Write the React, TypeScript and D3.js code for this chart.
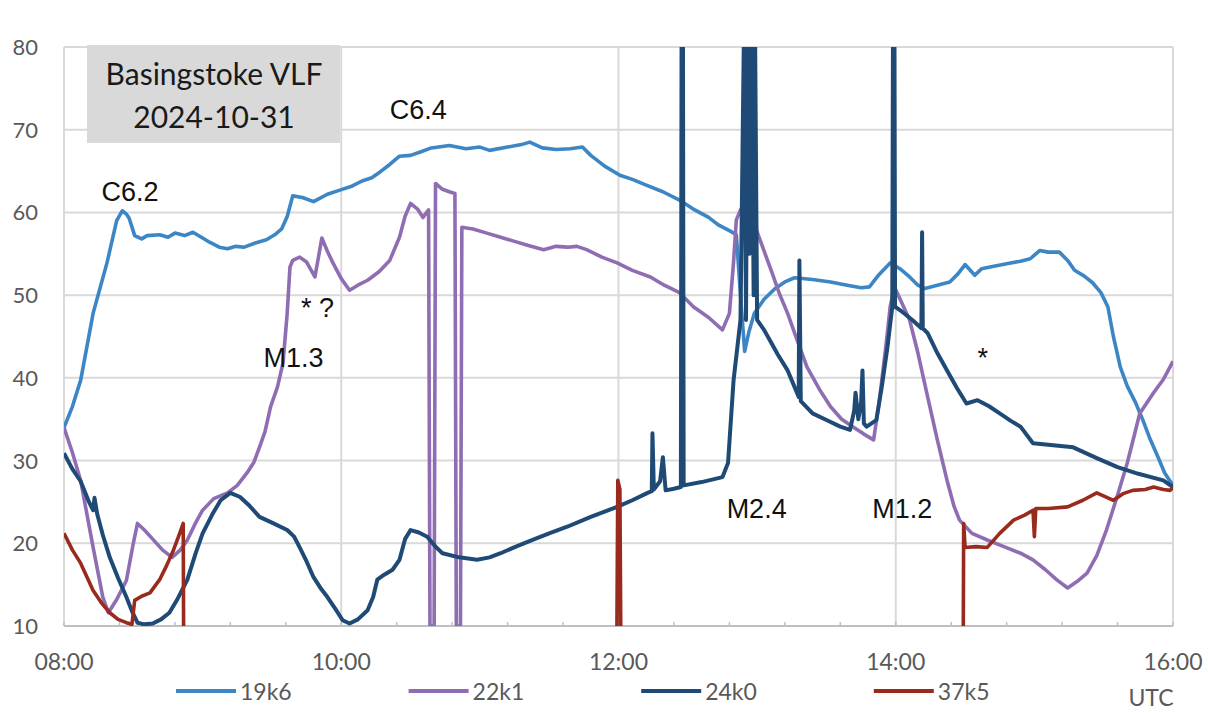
import React, { useEffect, useRef } from 'react';
import * as d3 from 'd3';

// [hour UTC, signal level]
const s19k6: [number, number][] = [
  [8.00, 34], [8.06, 36.5], [8.12, 39.7], [8.21, 47.8], [8.31, 53.9], [8.38, 59], [8.42, 60.2], [8.45, 59.8],
  [8.47, 59.3], [8.51, 57.2], [8.56, 56.8], [8.60, 57.2], [8.69, 57.3], [8.75, 57.0], [8.80, 57.5], [8.87, 57.2],
  [8.93, 57.6], [9.00, 56.9], [9.05, 56.4], [9.12, 55.8], [9.18, 55.6], [9.24, 55.9], [9.30, 55.8], [9.38, 56.3],
  [9.46, 56.7], [9.52, 57.3], [9.57, 58.0], [9.61, 59.5], [9.65, 62.0], [9.72, 61.8], [9.80, 61.3], [9.90, 62.2],
  [9.99, 62.7], [10.08, 63.2], [10.15, 63.8], [10.22, 64.2], [10.28, 64.9], [10.35, 65.8], [10.42, 66.8], [10.50, 66.9],
  [10.57, 67.3], [10.65, 67.8], [10.78, 68.1], [10.90, 67.7], [11.00, 67.9], [11.07, 67.5], [11.20, 67.9], [11.30, 68.2],
  [11.36, 68.5], [11.45, 67.8], [11.55, 67.6], [11.65, 67.7], [11.74, 67.9], [11.80, 66.9], [11.90, 65.6], [12.01, 64.5],
  [12.10, 64.0], [12.20, 63.3], [12.32, 62.5], [12.44, 61.5], [12.55, 60.3], [12.65, 59.4], [12.72, 58.5], [12.80, 57.8],
  [12.85, 57.3], [12.88, 50], [12.91, 43.2], [12.94, 45.5], [12.98, 47.8], [13.05, 49.5], [13.13, 50.8], [13.20, 51.6],
  [13.27, 52.1], [13.40, 51.9], [13.53, 51.6], [13.65, 51.2], [13.75, 50.9], [13.81, 51.0], [13.88, 52.5], [13.96, 53.9],
  [14.03, 53.2], [14.10, 52.2], [14.16, 51.2], [14.21, 50.8], [14.30, 51.2], [14.39, 51.6], [14.45, 52.6], [14.50, 53.7],
  [14.57, 52.4], [14.62, 53.2], [14.68, 53.4], [14.80, 53.8], [14.90, 54.1], [14.97, 54.4], [15.04, 55.4], [15.10, 55.2],
  [15.18, 55.2], [15.24, 54.2], [15.29, 53.0], [15.36, 52.3], [15.42, 51.5], [15.48, 50.3], [15.53, 48.6], [15.57, 45],
  [15.62, 41.3], [15.67, 39], [15.73, 37.0], [15.78, 35], [15.83, 32.8], [15.89, 30.5], [15.94, 28.5], [16.00, 27],
];

const s22k1: [number, number][] = [
  [8.00, 34], [8.06, 31], [8.12, 27.6], [8.21, 19.5], [8.28, 13.5], [8.32, 11.6], [8.38, 13.2], [8.45, 15.5],
  [8.50, 20], [8.53, 22.4], [8.58, 21.6], [8.64, 20.5], [8.71, 19.2], [8.78, 18.3], [8.84, 19.2], [8.89, 20.4],
  [8.95, 22.5], [9.00, 24.0], [9.08, 25.4], [9.18, 26.1], [9.25, 27.0], [9.32, 28.5], [9.37, 29.8], [9.41, 31.6],
  [9.45, 33.5], [9.49, 36.5], [9.54, 38.9], [9.58, 41.8], [9.61, 47.8], [9.63, 53.4], [9.65, 54.2], [9.70, 54.6],
  [9.75, 54.0], [9.81, 52.2], [9.84, 55], [9.86, 56.9], [9.90, 55.3], [9.94, 53.9], [10.00, 52.0], [10.06, 50.6],
  [10.12, 51.2], [10.19, 51.8], [10.27, 52.8], [10.35, 54.2], [10.42, 57.0], [10.46, 59.5], [10.50, 61.1], [10.55, 60.4],
  [10.59, 59.4], [10.63, 60.3], [10.64, 10], [10.67, 10], [10.68, 63.5], [10.73, 62.8], [10.78, 62.5], [10.82, 62.3],
  [10.83, 10], [10.86, 10], [10.87, 58.2], [10.95, 58.0], [11.05, 57.5], [11.15, 57.0], [11.25, 56.5], [11.35, 56.0],
  [11.46, 55.5], [11.55, 55.9], [11.63, 55.8], [11.70, 55.9], [11.77, 55.5], [11.88, 54.6], [11.99, 53.9], [12.10, 53.0],
  [12.23, 52.2], [12.33, 51.2], [12.44, 50.3], [12.54, 48.6], [12.65, 47.3], [12.75, 45.8], [12.80, 47.8], [12.83, 54],
  [12.85, 59.1], [12.88, 60.3], [12.93, 59.8], [12.97, 59], [13.04, 55.8], [13.11, 52.6], [13.16, 50.2], [13.22, 47.8],
  [13.29, 44.5], [13.36, 41.3], [13.45, 38.6], [13.53, 36.5], [13.61, 35.0], [13.69, 34.1], [13.77, 33.2], [13.84, 32.5],
  [13.88, 37], [13.93, 44], [13.96, 48.6], [13.99, 51.0], [14.04, 49.2], [14.10, 47.0], [14.16, 43], [14.23, 37.7],
  [14.30, 32.5], [14.37, 27.6], [14.42, 24.5], [14.46, 22.8], [14.55, 21.2], [14.66, 20.4], [14.78, 19.6], [14.90, 18.8],
  [14.99, 18.0], [15.08, 16.8], [15.16, 15.6], [15.24, 14.6], [15.31, 15.4], [15.38, 16.4], [15.45, 18.5], [15.52, 21.6],
  [15.60, 25.8], [15.67, 29.7], [15.72, 33], [15.76, 35.7], [15.86, 38.2], [15.93, 39.8], [16.00, 42],
];

const s24k0: [number, number][] = [
  [8.00, 30.9], [8.06, 29], [8.12, 27.5], [8.18, 25.0], [8.21, 24.0], [8.22, 25.5], [8.24, 23.5], [8.28, 21],
  [8.33, 18.3], [8.39, 15.8], [8.45, 13.5], [8.49, 11.8], [8.53, 10.4], [8.58, 10.2], [8.64, 10.3], [8.70, 10.8],
  [8.76, 11.6], [8.82, 13.3], [8.89, 15.6], [8.95, 18.8], [9.00, 21.2], [9.07, 23.5], [9.13, 25.2], [9.20, 26.1],
  [9.27, 25.6], [9.34, 24.5], [9.41, 23.2], [9.50, 22.5], [9.61, 21.6], [9.66, 20.8], [9.70, 19.5], [9.75, 17.8],
  [9.80, 15.9], [9.85, 14.6], [9.90, 13.5], [9.96, 12.0], [10.01, 10.7], [10.06, 10.3], [10.12, 10.8], [10.19, 11.9],
  [10.23, 13.5], [10.26, 15.6], [10.31, 16.2], [10.37, 16.8], [10.42, 18.0], [10.46, 20.5], [10.50, 21.6], [10.56, 21.3],
  [10.62, 20.8], [10.68, 19.6], [10.73, 18.8], [10.85, 18.3], [10.98, 18.0], [11.07, 18.3], [11.15, 18.8], [11.26, 19.6],
  [11.38, 20.4], [11.50, 21.2], [11.63, 22.0], [11.80, 23.2], [11.99, 24.4], [12.10, 25.2], [12.21, 26.1], [12.24, 26.3],
  [12.245, 33.3], [12.255, 26.5], [12.30, 27.5], [12.32, 30.4], [12.34, 26.4], [12.40, 26.6], [12.45, 26.8], [12.455, 82],
  [12.465, 82], [12.47, 27], [12.60, 27.4], [12.75, 28.0], [12.79, 29.7], [12.83, 39.7], [12.88, 47.0], [12.905, 82],
  [12.92, 47], [12.93, 82], [12.945, 55], [12.96, 82], [12.975, 50], [12.985, 82], [13.00, 47], [13.05, 45.8],
  [13.09, 44.6], [13.15, 42.8], [13.22, 40.9], [13.30, 37.7], [13.305, 54.2], [13.315, 37.2], [13.40, 35.7], [13.50, 34.9],
  [13.60, 34.1], [13.67, 33.7], [13.70, 36], [13.71, 38.2], [13.73, 35], [13.75, 37], [13.76, 40.9], [13.77, 34.5],
  [13.79, 34.1], [13.86, 34.9], [13.90, 39], [13.94, 43.7], [13.975, 48.6], [13.98, 82], [13.99, 82], [13.995, 48.6],
  [14.03, 48.2], [14.12, 47.0], [14.185, 46], [14.19, 57.6], [14.195, 46], [14.23, 45.4], [14.30, 43], [14.37, 40.9],
  [14.44, 38.8], [14.51, 36.9], [14.59, 37.3], [14.67, 36.6], [14.75, 35.7], [14.83, 34.8], [14.90, 34.1], [14.99, 32.1],
  [15.10, 31.9], [15.28, 31.6], [15.45, 30.3], [15.60, 29.2], [15.75, 28.4], [15.93, 27.6], [16.00, 26.8],
];

const s37k5: [number, number][] = [
  [8.00, 21.2], [8.06, 19.2], [8.12, 17.6], [8.21, 14.3], [8.27, 12.8], [8.33, 11.6], [8.39, 10.8], [8.45, 10.4],
  [8.49, 10.2], [8.51, 13.1], [8.56, 13.6], [8.62, 14.0], [8.69, 15.6], [8.74, 17.3], [8.79, 19.2], [8.83, 21],
  [8.86, 22.4], [8.865, 0], [11.985, 0], [11.995, 27.6], [12.01, 26.5], [12.02, 0], [14.485, 0], [14.49, 22.4],
  [14.50, 19.5], [14.58, 19.6], [14.66, 19.5], [14.75, 21.2], [14.85, 22.8], [14.93, 23.4], [14.99, 24.0], [15.00, 20.8],
  [15.01, 24.2], [15.10, 24.2], [15.24, 24.4], [15.35, 25.2], [15.45, 26.1], [15.57, 25.2], [15.64, 26.0], [15.71, 26.4],
  [15.80, 26.5], [15.86, 26.8], [15.93, 26.5], [15.98, 26.4], [16.00, 26.8],
];

const seriesNames = ['19k6', '22k1', '24k0', '37k5'];
const seriesColors = ['#3c86c5', '#8f6db2', '#1f4a76', '#982b1e'];
const seriesData = [s19k6, s22k1, s24k0, s37k5];

const yTicks = [10, 20, 30, 40, 50, 60, 70, 80];
const xTicks = [8, 10, 12, 14, 16];
const titleLines = ['Basingstoke VLF', '2024-10-31'];

// flare labels: [text, hour, level at text baseline]
const notes: [string, number, number][] = [
  ['C6.2', 8.27, 61.4],
  ['C6.4', 10.35, 71.3],
  ['* ?', 9.71, 47.3],
  ['M1.3', 9.44, 41.3],
  ['M2.4', 12.78, 23.0],
  ['M1.2', 13.83, 23.0],
  ['*', 14.59, 41.3],
];

const W = 1208;
const H = 713;

export default function App() {
  const svgRef = useRef<SVGSVGElement>(null);

  useEffect(() => {
    const svg = d3.select(svgRef.current);
    svg.selectAll('*').remove();

    const x = d3.scaleLinear().domain([8, 16]).range([64, 1173]);
    const y = d3.scaleLinear().domain([10, 80]).range([626, 47]);

    svg.append('rect').attr('width', W).attr('height', H).attr('fill', '#fff');

    // grid
    svg.append('g').selectAll('line').data(yTicks).enter().append('line')
      .attr('x1', x(8)).attr('x2', x(16))
      .attr('y1', d => y(d)).attr('y2', d => y(d))
      .attr('stroke', d => d === 10 ? '#bfbfbf' : '#d9d9d9').attr('stroke-width', 2);
    svg.append('g').selectAll('line').data(xTicks).enter().append('line')
      .attr('x1', d => x(d)).attr('x2', d => x(d))
      .attr('y1', y(80)).attr('y2', y(10))
      .attr('stroke', '#d9d9d9').attr('stroke-width', 2);

    // minor ticks on the time axis, every 24 min
    const minor = d3.range(8, 16.01, 0.4);
    svg.append('g').selectAll('line').data(minor).enter().append('line')
      .attr('x1', d => x(d)).attr('x2', d => x(d))
      .attr('y1', y(10) - 4).attr('y2', y(10))
      .attr('stroke', '#bfbfbf').attr('stroke-width', 1.5);

    // tick labels
    svg.append('g').selectAll('text').data(yTicks).enter().append('text')
      .attr('x', 38).attr('y', d => y(d) + 8)
      .attr('text-anchor', 'end')
      .style('font-family', 'Lato, sans-serif').style('font-size', '22px').attr('fill', '#595959')
      .text(d => d);
    svg.append('g').selectAll('text').data(xTicks).enter().append('text')
      .attr('x', d => x(d)).attr('y', 670)
      .attr('text-anchor', 'middle')
      .style('font-family', 'Lato, sans-serif').style('font-size', '23px').attr('fill', '#595959')
      .text(d => d3.format('02')(d) + ':00');

    // title box
    svg.append('rect').attr('x', 87).attr('y', 45).attr('width', 253).attr('height', 98).attr('fill', '#d9d9d9');
    svg.append('g').selectAll('text').data(titleLines).enter().append('text')
      .attr('x', 214).attr('y', (d, i) => 85 + i * 43)
      .attr('text-anchor', 'middle')
      .style('font-family', 'Lato, sans-serif').style('font-size', '30px').attr('fill', '#1a1a1a')
      .text(d => d);

    // series
    svg.append('defs').append('clipPath').attr('id', 'plot-clip')
      .append('rect').attr('x', x(8)).attr('y', y(80)).attr('width', x(16) - x(8)).attr('height', y(10) - y(80));

    const line = d3.line<[number, number]>().x(d => x(d[0])).y(d => y(d[1]));
    const plot = svg.append('g').attr('clip-path', 'url(#plot-clip)');
    seriesData.forEach((s, i) => {
      plot.append('path')
        .attr('d', line(s))
        .attr('fill', 'none')
        .attr('stroke', seriesColors[i])
        .attr('stroke-width', i === 2 ? 4 : 3.6)
        .attr('stroke-linejoin', 'round');
    });

    // annotations
    svg.append('g').selectAll('text').data(notes).enter().append('text')
      .attr('x', d => x(d[1])).attr('y', d => y(d[2]))
      .style('font-family', 'Liberation Sans, Arial, sans-serif').style('font-size', '27px').attr('fill', '#111')
      .text(d => d[0]);

    // legend
    const legend = svg.append('g');
    seriesNames.forEach((n, i) => {
      const lx = 176 + i * 232.6;
      legend.append('line')
        .attr('x1', lx).attr('x2', lx + 60).attr('y1', 691).attr('y2', 691)
        .attr('stroke', seriesColors[i]).attr('stroke-width', 4);
      legend.append('text')
        .attr('x', lx + 64).attr('y', 700)
        .style('font-family', 'Lato, sans-serif').style('font-size', '23px').attr('fill', '#595959')
        .text(n);
    });
    svg.append('text')
      .attr('x', 1151).attr('y', 706).attr('text-anchor', 'middle')
      .style('font-family', 'Lato, sans-serif').style('font-size', '23px').attr('fill', '#595959')
      .text('UTC');
  }, []);

  return (
    <svg ref={svgRef} width={W} height={H} style={{ position: 'absolute', left: 0, top: 0 }} />
  );
}
